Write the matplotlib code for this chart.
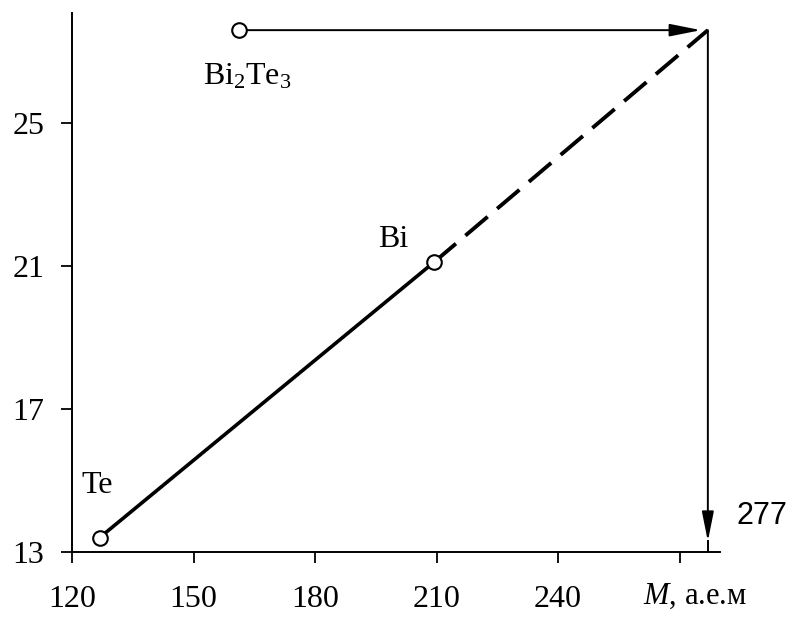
import numpy as np
import matplotlib
matplotlib.use("Agg")
import matplotlib.pyplot as plt

# --- data ---
labels = ["Te", "Bi", "Bi$_2$Te$_3$"]
mass = [126.8, 209.3, 161.2]        # M, a.e.m
value = [13.4, 21.1, 27.6]
M_end = 277                         # extrapolated mass
x_ticks = [120, 150, 180, 210, 240, 270]
x_tick_labels = ["120", "150", "180", "210", "240", ""]
y_ticks = [13, 17, 21, 25]

serif = ["Liberation Serif", "DejaVu Serif"]
plt.rcParams["font.family"] = serif
plt.rcParams["mathtext.fontset"] = "custom"
plt.rcParams["mathtext.rm"] = "Liberation Serif"
plt.rcParams["mathtext.it"] = "Liberation Serif:italic"

fig = plt.figure(figsize=(7.86, 6.19), dpi=100)
ax = fig.add_axes([72 / 786, 67 / 619, 648 / 786, 539 / 619])

te, bi, bt = 0, 1, 2
y_end = value[bt]

# solid Te -> Bi
ax.plot([mass[te], mass[bi]], [value[te], value[bi]], color="black", lw=2.6,
        solid_capstyle="round", zorder=2)
# dashed extrapolation Bi -> (277, y)
ax.plot([mass[bi], M_end], [value[bi], y_end], color="black", lw=2.8,
        dashes=(7.5, 3.2), zorder=2)
# horizontal arrow from Bi2Te3
ax.annotate("", xy=(M_end, y_end), xytext=(mass[bt], y_end),
            arrowprops=dict(arrowstyle="-|>,head_length=1.9,head_width=0.38",
                            color="black", lw=1.4, shrinkA=6, shrinkB=5))
# vertical arrow down to axis
ax.annotate("", xy=(M_end, 13.3), xytext=(M_end, y_end),
            arrowprops=dict(arrowstyle="-|>,head_length=1.8,head_width=0.36",
                            color="black", lw=1.4, shrinkA=0, shrinkB=0))
ax.plot([M_end, M_end], [13.3, 13], color="black", lw=1.4)

# open circles
ax.plot(mass, value, "o", ms=10.5, mfc="white", mec="black", mew=1.5, zorder=3)

# point labels
ax.text(126.2, 14.85, labels[te], fontsize=23, ha="center", va="center")
ax.text(199.3, 21.75, labels[bi], fontsize=23, ha="center", va="center")
ax.text(163.2, 26.3, labels[bt], fontsize=23, ha="center", va="center")
ax.text(284.0, 14.0, str(M_end), fontsize=22, ha="left", va="center",
        family=["Liberation Sans", "DejaVu Sans"])

ax.set_xlim(120, 280)
ax.set_ylim(13, 28.08)
ax.set_xticks(x_ticks)
ax.set_xticklabels(x_tick_labels)
ax.set_yticks(y_ticks)
ax.tick_params(direction="out", length=8, width=1.3, labelsize=23)
ax.tick_params(axis="x", pad=16)
ax.tick_params(axis="y", pad=12)
for s in ["top", "right"]:
    ax.spines[s].set_visible(False)
for s in ["left", "bottom"]:
    ax.spines[s].set_linewidth(1.4)

ax.text(273.8, 11.75, r"$\mathit{M}$, а.е.м", fontsize=22, ha="center", va="center",
        clip_on=False)

fig.savefig("out.png", dpi=100)
